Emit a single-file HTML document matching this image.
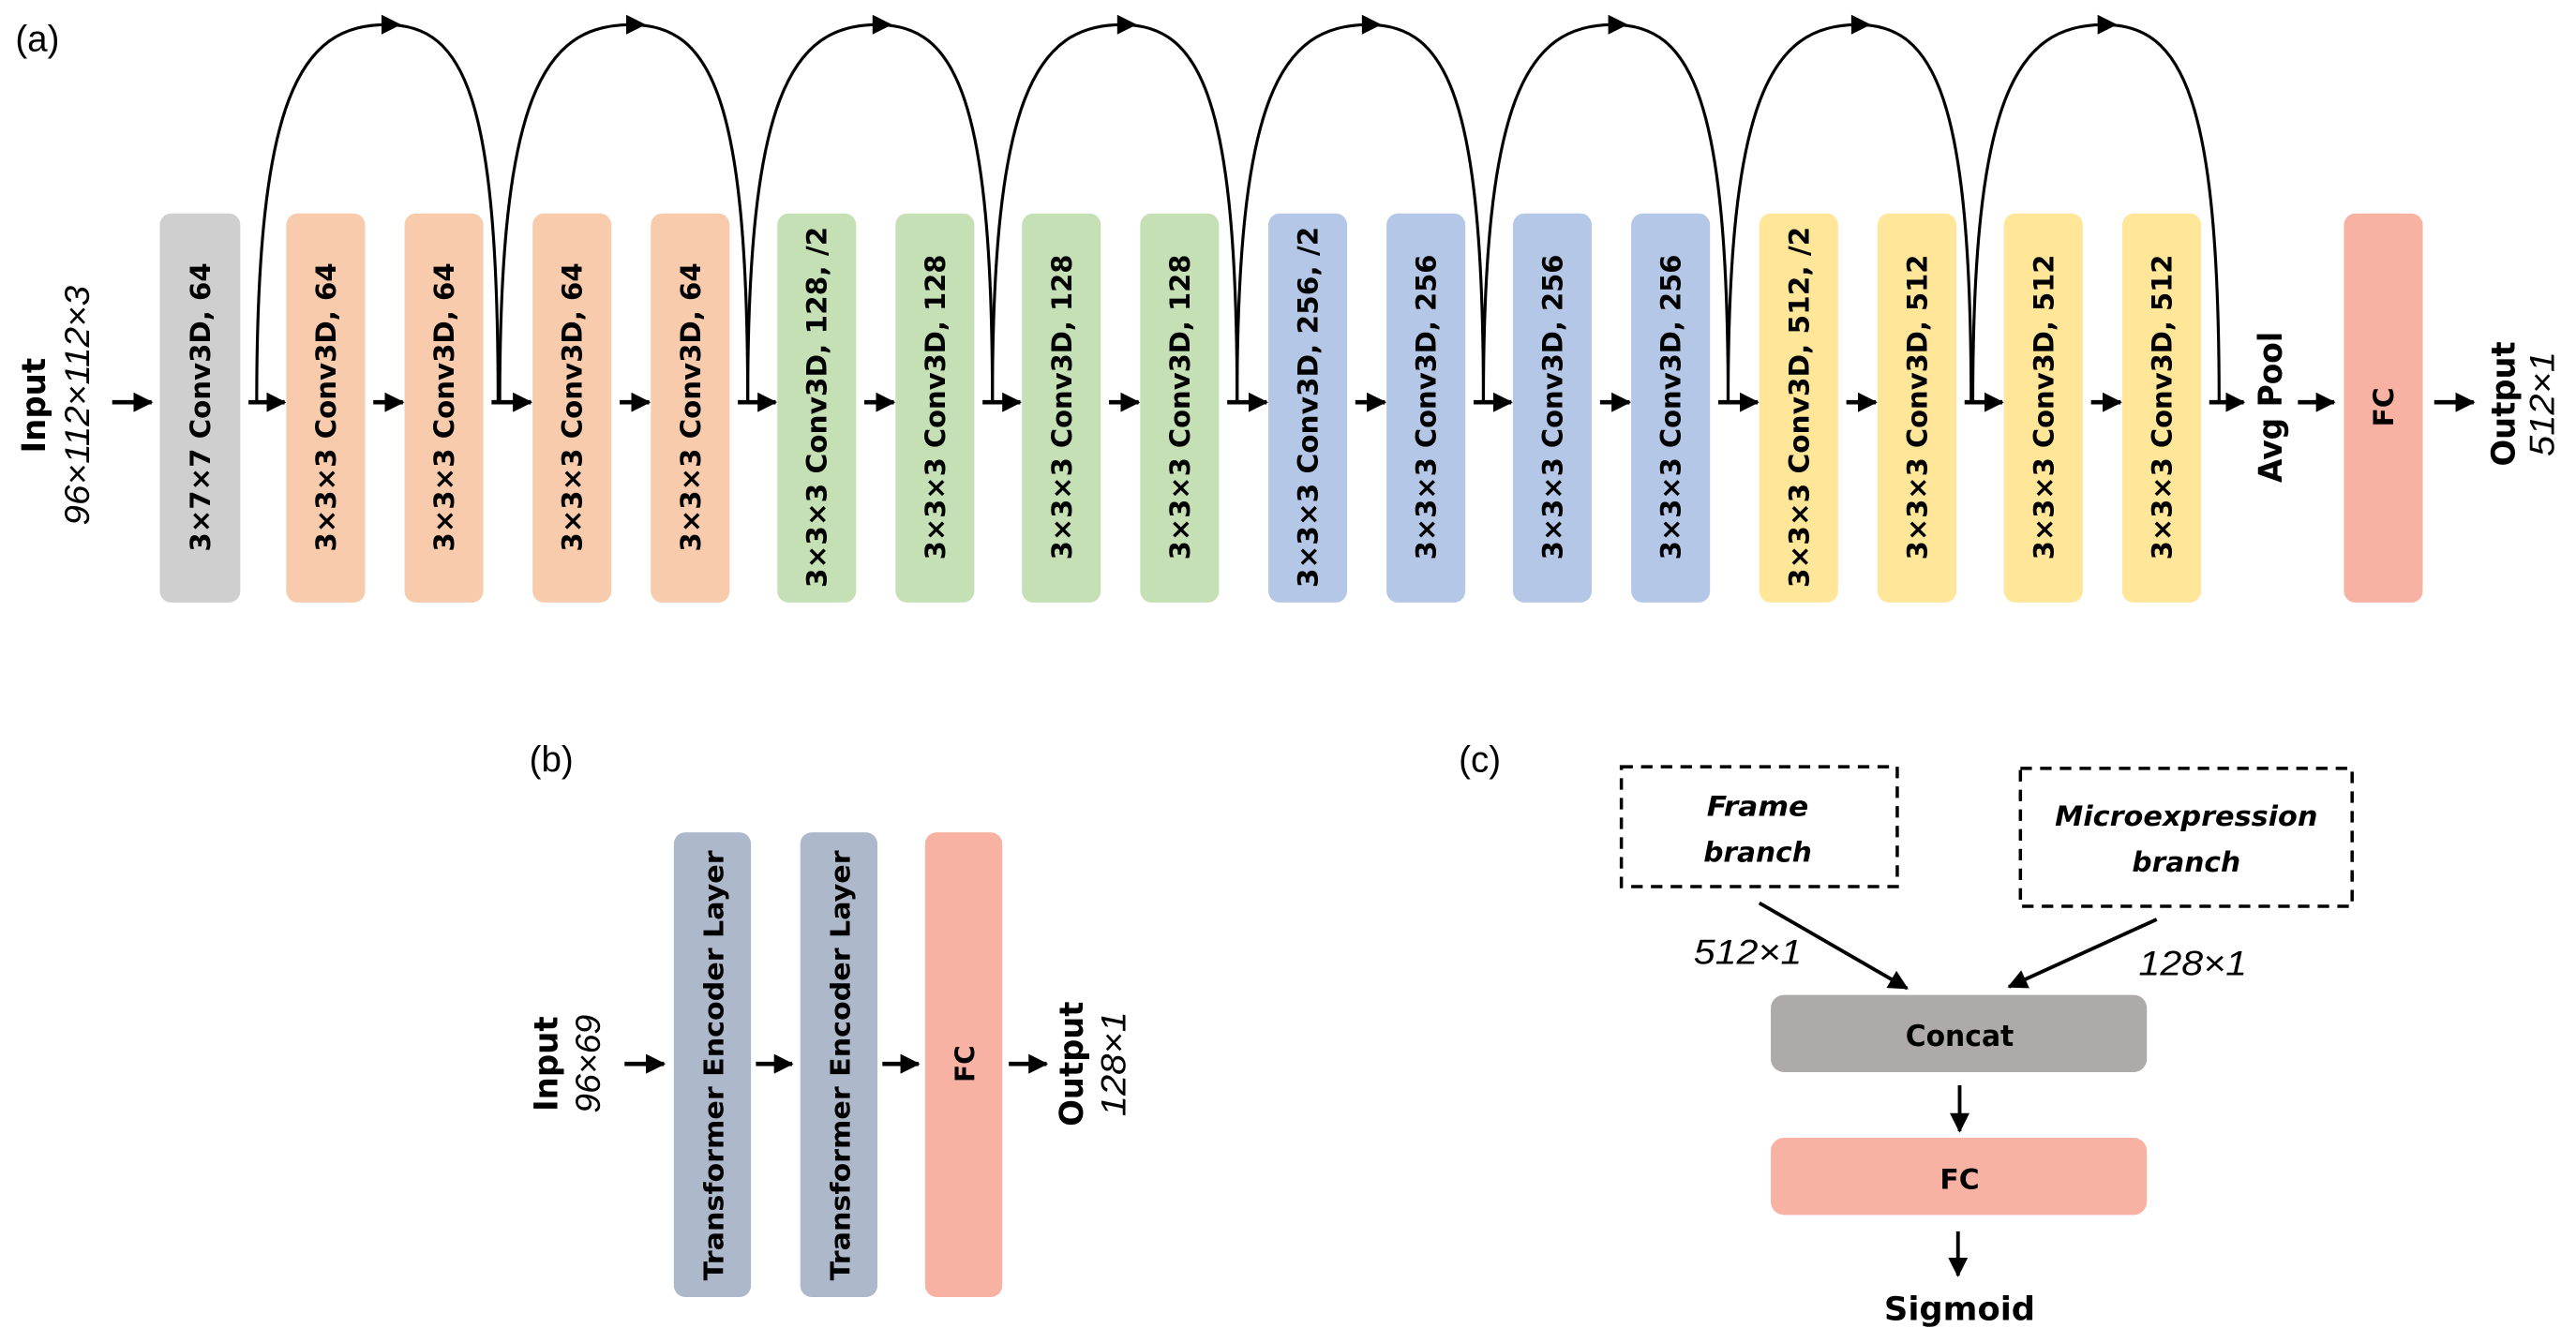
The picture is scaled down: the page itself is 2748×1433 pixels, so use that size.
<!DOCTYPE html>
<html><head><meta charset="utf-8"><style>
html,body{margin:0;padding:0;background:#fff;}
svg{display:block;}
.b{font-family:"DejaVu Sans","Liberation Sans",sans-serif;font-weight:bold;fill:#000;}
.i{font-family:"Liberation Sans",sans-serif;font-style:italic;fill:#000;}
.r{font-family:"Liberation Sans",sans-serif;fill:#000;}
</style></head><body>
<svg width="2748" height="1433" viewBox="0 0 1568 818" xmlns="http://www.w3.org/2000/svg">
<defs>
<marker id="ah" markerUnits="userSpaceOnUse" markerWidth="12" markerHeight="12" refX="11" refY="6" orient="auto">
<path d="M0,0 L12,6 L0,12 z" fill="#000"/>
</marker>
</defs>
<text class="r" x="9" y="31" font-size="22">(a)</text>

<g>
<rect x="97" y="130" width="49" height="237" rx="7" fill="#d0cfd0"/>
<rect x="174" y="130" width="48" height="237" rx="7" fill="#f7cbab"/>
<rect x="246" y="130" width="48" height="237" rx="7" fill="#f7cbab"/>
<rect x="324" y="130" width="48" height="237" rx="7" fill="#f7cbab"/>
<rect x="396" y="130" width="48" height="237" rx="7" fill="#f7cbab"/>
<rect x="473" y="130" width="48" height="237" rx="7" fill="#c5e0b4"/>
<rect x="545" y="130" width="48" height="237" rx="7" fill="#c5e0b4"/>
<rect x="622" y="130" width="48" height="237" rx="7" fill="#c5e0b4"/>
<rect x="694" y="130" width="48" height="237" rx="7" fill="#c5e0b4"/>
<rect x="772" y="130" width="48" height="237" rx="7" fill="#b4c7e7"/>
<rect x="844" y="130" width="48" height="237" rx="7" fill="#b4c7e7"/>
<rect x="921" y="130" width="48" height="237" rx="7" fill="#b4c7e7"/>
<rect x="993" y="130" width="48" height="237" rx="7" fill="#b4c7e7"/>
<rect x="1071" y="130" width="48" height="237" rx="7" fill="#ffe699"/>
<rect x="1143" y="130" width="48" height="237" rx="7" fill="#ffe699"/>
<rect x="1220" y="130" width="48" height="237" rx="7" fill="#ffe699"/>
<rect x="1292" y="130" width="48" height="237" rx="7" fill="#ffe699"/>
<rect x="1427" y="130" width="48" height="237" rx="7" fill="#f8b2a4"/>
</g>

<g class="b" font-size="17" text-anchor="middle">
<text transform="translate(127.5,248) rotate(-90)" textLength="176" lengthAdjust="spacingAndGlyphs">3×7×7 Conv3D, 64</text>
<text transform="translate(204,248) rotate(-90)" textLength="176" lengthAdjust="spacingAndGlyphs">3×3×3 Conv3D, 64</text>
<text transform="translate(276,248) rotate(-90)" textLength="176" lengthAdjust="spacingAndGlyphs">3×3×3 Conv3D, 64</text>
<text transform="translate(354,248) rotate(-90)" textLength="176" lengthAdjust="spacingAndGlyphs">3×3×3 Conv3D, 64</text>
<text transform="translate(426,248) rotate(-90)" textLength="176" lengthAdjust="spacingAndGlyphs">3×3×3 Conv3D, 64</text>
<text transform="translate(503,248) rotate(-90)" textLength="220" lengthAdjust="spacingAndGlyphs">3×3×3 Conv3D, 128, /2</text>
<text transform="translate(575,248) rotate(-90)" textLength="186" lengthAdjust="spacingAndGlyphs">3×3×3 Conv3D, 128</text>
<text transform="translate(652,248) rotate(-90)" textLength="186" lengthAdjust="spacingAndGlyphs">3×3×3 Conv3D, 128</text>
<text transform="translate(724,248) rotate(-90)" textLength="186" lengthAdjust="spacingAndGlyphs">3×3×3 Conv3D, 128</text>
<text transform="translate(802,248) rotate(-90)" textLength="220" lengthAdjust="spacingAndGlyphs">3×3×3 Conv3D, 256, /2</text>
<text transform="translate(874,248) rotate(-90)" textLength="186" lengthAdjust="spacingAndGlyphs">3×3×3 Conv3D, 256</text>
<text transform="translate(951,248) rotate(-90)" textLength="186" lengthAdjust="spacingAndGlyphs">3×3×3 Conv3D, 256</text>
<text transform="translate(1023,248) rotate(-90)" textLength="186" lengthAdjust="spacingAndGlyphs">3×3×3 Conv3D, 256</text>
<text transform="translate(1101,248) rotate(-90)" textLength="220" lengthAdjust="spacingAndGlyphs">3×3×3 Conv3D, 512, /2</text>
<text transform="translate(1173,248) rotate(-90)" textLength="186" lengthAdjust="spacingAndGlyphs">3×3×3 Conv3D, 512</text>
<text transform="translate(1250,248) rotate(-90)" textLength="186" lengthAdjust="spacingAndGlyphs">3×3×3 Conv3D, 512</text>
<text transform="translate(1322,248) rotate(-90)" textLength="186" lengthAdjust="spacingAndGlyphs">3×3×3 Conv3D, 512</text>
<text transform="translate(1457,248) rotate(-90)">FC</text>
<text transform="translate(1389,248) rotate(-90)" font-size="20" textLength="92" lengthAdjust="spacingAndGlyphs">Avg Pool</text>
<text transform="translate(1531,246) rotate(-90)" font-size="20" textLength="76" lengthAdjust="spacingAndGlyphs">Output</text>
<text transform="translate(27,247) rotate(-90)" font-size="20" textLength="58" lengthAdjust="spacingAndGlyphs">Input</text>
</g>
<text class="i" transform="translate(54,247) rotate(-90)" font-size="21" text-anchor="middle" textLength="146" lengthAdjust="spacingAndGlyphs">96×112×112×3</text>
<text class="i" transform="translate(1555,246) rotate(-90)" font-size="21" text-anchor="middle" textLength="64" lengthAdjust="spacingAndGlyphs">512×1</text>

<g stroke="#000" stroke-width="2.6" marker-end="url(#ah)">
<line x1="68" y1="245" x2="92" y2="245"/>
<line x1="151" y1="245" x2="173" y2="245"/>
<line x1="227" y1="245" x2="245" y2="245"/>
<line x1="299" y1="245" x2="323" y2="245"/>
<line x1="377" y1="245" x2="395" y2="245"/>
<line x1="449" y1="245" x2="472" y2="245"/>
<line x1="526" y1="245" x2="544" y2="245"/>
<line x1="598" y1="245" x2="621" y2="245"/>
<line x1="675" y1="245" x2="693" y2="245"/>
<line x1="747" y1="245" x2="771" y2="245"/>
<line x1="825" y1="245" x2="843" y2="245"/>
<line x1="897" y1="245" x2="920" y2="245"/>
<line x1="974" y1="245" x2="992" y2="245"/>
<line x1="1046" y1="245" x2="1070" y2="245"/>
<line x1="1124" y1="245" x2="1142" y2="245"/>
<line x1="1196" y1="245" x2="1219" y2="245"/>
<line x1="1273" y1="245" x2="1291" y2="245"/>
<line x1="1345" y1="245" x2="1366" y2="245"/>
<line x1="1399" y1="245" x2="1421" y2="245"/>
<line x1="1482" y1="245" x2="1506" y2="245"/>
</g>

<g fill="none" stroke="#000" stroke-width="1.8">
<path d="M156,245 C156,60 182,15 235,15 C283,15 303,60 303,245"/>
<path d="M304,245 C304,60 330,15 384,15 C433,15 455,60 455,245"/>
<path d="M455,245 C455,60 481,15 534,15 C582,15 604,60 604,245"/>
<path d="M604,245 C604,60 630,15 683,15 C731,15 753,60 753,245"/>
<path d="M753,245 C753,60 779,15 833,15 C881,15 903,60 903,245"/>
<path d="M903,245 C903,60 929,15 982,15 C1030,15 1052,60 1052,245"/>
<path d="M1052,245 C1052,60 1078,15 1131,15 C1178,15 1200,60 1200,245"/>
<path d="M1201,245 C1201,60 1227,15 1281,15 C1329,15 1351,60 1351,245"/>
</g>
<g fill="#000">
<path d="M232,9 L244,15 L232,21 z"/>
<path d="M381,9 L393,15 L381,21 z"/>
<path d="M531,9 L543,15 L531,21 z"/>
<path d="M680,9 L692,15 L680,21 z"/>
<path d="M829,9 L841,15 L829,21 z"/>
<path d="M979,9 L991,15 L979,21 z"/>
<path d="M1127,9 L1139,15 L1127,21 z"/>
<path d="M1277,9 L1289,15 L1277,21 z"/>
</g>

<text class="r" x="322" y="470" font-size="22">(b)</text>
<rect x="410" y="507" width="47" height="283" rx="7" fill="#adb9ca"/>
<rect x="487" y="507" width="47" height="283" rx="7" fill="#adb9ca"/>
<rect x="563" y="507" width="47" height="283" rx="7" fill="#f8b2a4"/>
<g class="b" text-anchor="middle" font-size="16">
<text transform="translate(440,649) rotate(-90)" textLength="262" lengthAdjust="spacingAndGlyphs">Transformer Encoder Layer</text>
<text transform="translate(517,649) rotate(-90)" textLength="262" lengthAdjust="spacingAndGlyphs">Transformer Encoder Layer</text>
<text transform="translate(593,648) rotate(-90)">FC</text>
<text transform="translate(339,648) rotate(-90)" font-size="20" textLength="58" lengthAdjust="spacingAndGlyphs">Input</text>
<text transform="translate(659,648) rotate(-90)" font-size="20" textLength="76" lengthAdjust="spacingAndGlyphs">Output</text>
</g>
<text class="i" transform="translate(365,648) rotate(-90)" font-size="21" text-anchor="middle" textLength="60" lengthAdjust="spacingAndGlyphs">96×69</text>
<text class="i" transform="translate(685,648) rotate(-90)" font-size="21" text-anchor="middle" textLength="64" lengthAdjust="spacingAndGlyphs">128×1</text>
<g stroke="#000" stroke-width="2.6" marker-end="url(#ah)">
<line x1="380" y1="648" x2="404" y2="648"/>
<line x1="460" y1="648" x2="482" y2="648"/>
<line x1="537" y1="648" x2="559" y2="648"/>
<line x1="614" y1="648" x2="637" y2="648"/>
</g>

<text class="r" x="888" y="470" font-size="22">(c)</text>
<rect x="987" y="467" width="168" height="73" fill="none" stroke="#000" stroke-width="2" stroke-dasharray="7,5"/>
<rect x="1230" y="468" width="202" height="84" fill="none" stroke="#000" stroke-width="2" stroke-dasharray="7,5"/>
<g font-family="'DejaVu Sans','Liberation Sans',sans-serif" font-weight="bold" font-style="italic" font-size="17" text-anchor="middle">
<text x="1070" y="497" textLength="62" lengthAdjust="spacingAndGlyphs">Frame</text>
<text x="1070" y="525" textLength="66" lengthAdjust="spacingAndGlyphs">branch</text>
<text x="1331" y="503" textLength="160" lengthAdjust="spacingAndGlyphs">Microexpression</text>
<text x="1331" y="531" textLength="66" lengthAdjust="spacingAndGlyphs">branch</text>
</g>
<text class="i" x="1064" y="587" font-size="21" text-anchor="middle" textLength="66" lengthAdjust="spacingAndGlyphs">512×1</text>
<text class="i" x="1335" y="594" font-size="21" text-anchor="middle" textLength="66" lengthAdjust="spacingAndGlyphs">128×1</text>
<g stroke="#000" stroke-width="2.2" marker-end="url(#ah)">
<line x1="1071" y1="550" x2="1161" y2="602"/>
<line x1="1313" y1="560" x2="1223" y2="601"/>
<line x1="1193" y1="661" x2="1193" y2="689"/>
<line x1="1192" y1="750" x2="1192" y2="777"/>
</g>
<rect x="1078" y="606" width="229" height="47" rx="8" fill="#aeaaa9"/>
<rect x="1078" y="693" width="229" height="47" rx="8" fill="#f8b2a4"/>
<g class="b" text-anchor="middle">
<text x="1193" y="637" font-size="18" textLength="66" lengthAdjust="spacingAndGlyphs">Concat</text>
<text x="1193" y="724" font-size="17">FC</text>
<text x="1193" y="804" font-size="20" textLength="92" lengthAdjust="spacingAndGlyphs">Sigmoid</text>
</g>
</svg>
</body></html>
